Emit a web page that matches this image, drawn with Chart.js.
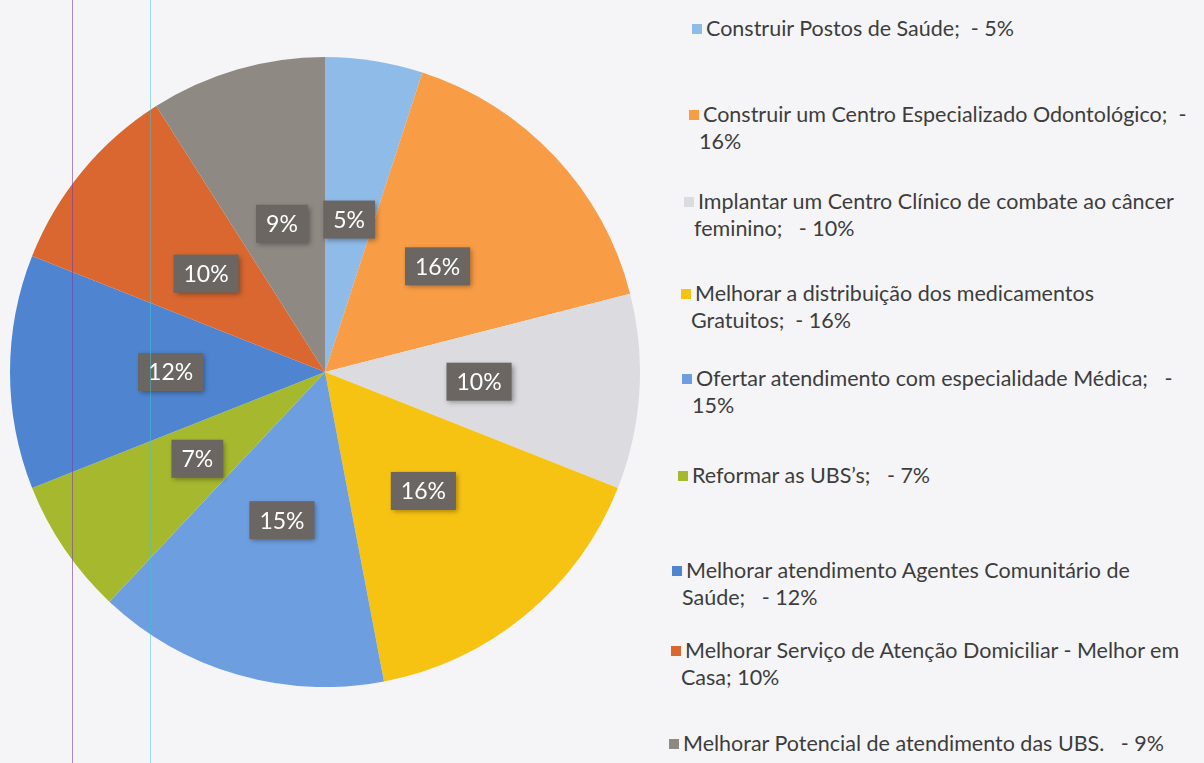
<!DOCTYPE html>
<html>
<head>
    <title>Pie - saude</title>
    <script src="https://cdn.jsdelivr.net/npm/chart.js"></script>
    <style>
        body { margin: 0; width: 1204px; height: 763px; background: #f5f5f7; overflow: hidden; position: relative; font-family: Lato, "Open Sans", sans-serif; }
        #pieBox { position: absolute; left: 10px; top: 57px; width: 630px; height: 630px; }
        .leg { position: absolute; font-size: 21.5px; color: #3d3d3d; line-height: 27px; white-space: pre; }
        .leg .sw { position: absolute; left: -14px; top: 9px; width: 10px; height: 10px; }
        .rule { position: absolute; top: 0; width: 1px; height: 763px; }
    </style>
</head>
<body>
    <div id="pieBox"><canvas id="myChart"></canvas></div>
    <div id="legend"></div>
    <div class="rule" style="left:72px;background:rgba(120,60,170,0.6)"></div>
    <div class="rule" style="left:150px;background:rgba(60,200,210,0.5)"></div>

    <script>
        // categories (clockwise from 12 o'clock)
        var categories = [
            'Construir Postos de Saúde',
            'Construir um Centro Especializado Odontológico',
            'Implantar um Centro Clínico de combate ao câncer feminino',
            'Melhorar a distribuição dos medicamentos Gratuitos',
            'Ofertar atendimento com especialidade Médica',
            'Reformar as UBS’s',
            'Melhorar atendimento Agentes Comunitário de Saúde',
            'Melhorar Serviço de Atenção Domiciliar - Melhor em Casa',
            'Melhorar Potencial de atendimento das UBS.'
        ];
        var percents = [5, 16, 10, 16, 15, 7, 12, 10, 9];
        var colors = ['#8fbbe9', '#f89c45', '#dcdbe0', '#f7c313', '#6d9fe0', '#a6b92e', '#4f85d0', '#d9672f', '#8e8983'];

        // legend text as printed (line breaks as in the picture)
        var legendLines = [
            ['Construir Postos de Saúde;  - 5%'],
            ['Construir um Centro Especializado Odontológico;  -', '16%'],
            ['Implantar um Centro Clínico de combate ao câncer', 'feminino;   - 10%'],
            ['Melhorar a distribuição dos medicamentos', 'Gratuitos;  - 16%'],
            ['Ofertar atendimento com especialidade Médica;   -', '15%'],
            ['Reformar as UBS’s;   - 7%'],
            ['Melhorar atendimento Agentes Comunitário de', 'Saúde;   - 12%'],
            ['Melhorar Serviço de Atenção Domiciliar - Melhor em', 'Casa; 10%'],
            ['Melhorar Potencial de atendimento das UBS.   - 9%']
        ];
        // where each legend entry sits (text left, first line top)
        var legendPos = [[706, 15], [703, 101], [698, 188], [695, 280], [696, 365], [692, 462], [686, 557], [685, 637], [683, 730]];

        var legend = document.getElementById('legend');
        legendLines.forEach(function (lines, i) {
            var d = document.createElement('div');
            d.className = 'leg';
            d.style.left = legendPos[i][0] + 'px';
            d.style.top = legendPos[i][1] + 'px';
            var sw = document.createElement('span');
            sw.className = 'sw';
            sw.style.background = colors[i];
            d.appendChild(sw);
            lines.forEach(function (t, k) {
                var l = document.createElement('div');
                l.textContent = t;
                if (k > 0) l.style.marginLeft = '-4px';
                d.appendChild(l);
            });
            legend.appendChild(d);
        });

        // boxed percent labels in the middle of each slice
        var boxLabels = {
            id: 'boxLabels',
            afterDatasetsDraw: function (chart) {
                var ctx = chart.ctx;
                var meta = chart.getDatasetMeta(0);
                ctx.save();
                ctx.font = '23px Lato, "Open Sans", sans-serif';
                ctx.textAlign = 'center';
                ctx.textBaseline = 'middle';
                meta.data.forEach(function (arc, i) {
                    var mid = (arc.startAngle + arc.endAngle) / 2;
                    var r = arc.outerRadius * 0.49;
                    var x = arc.x + Math.cos(mid) * r;
                    var y = arc.y + Math.sin(mid) * r;
                    var txt = percents[i] + '%';
                    var w = ctx.measureText(txt).width + 20;
                    var h = 38;
                    ctx.shadowColor = 'rgba(0,0,0,0.35)';
                    ctx.shadowBlur = 5;
                    ctx.shadowOffsetX = 2;
                    ctx.shadowOffsetY = 2;
                    ctx.fillStyle = '#6b6662';
                    ctx.fillRect(x - w / 2, y - h / 2, w, h);
                    ctx.shadowColor = 'transparent';
                    ctx.fillStyle = '#ffffff';
                    ctx.fillText(txt, x, y + 1);
                });
                ctx.restore();
            }
        };

        var ctx = document.getElementById('myChart').getContext('2d');
        var chart = new Chart(ctx, {
            type: 'pie',
            data: {
                labels: categories,
                datasets: [{
                    data: percents,
                    backgroundColor: colors,
                    borderWidth: 0
                }]
            },
            options: {
                responsive: true,
                maintainAspectRatio: false,
                animation: false,
                layout: { padding: 0 },
                plugins: {
                    legend: { display: false },
                    tooltip: { enabled: false }
                }
            },
            plugins: [boxLabels]
        });
    </script>
</body>
</html>
